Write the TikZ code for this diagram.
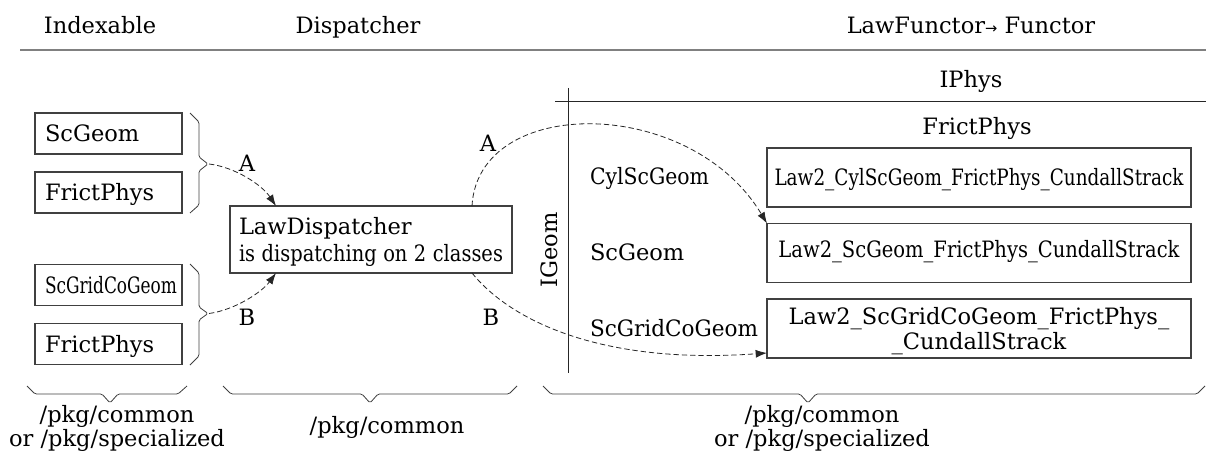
\documentclass[tikz,border=0pt]{standalone}
\usepackage{fontspec}
\setmainfont{DejaVu Serif}
\newfontfamily\arrowfont{DejaVu Sans}
\usepackage{graphicx}
\usetikzlibrary{arrows.meta}
\newcommand\sqz[2]{\resizebox{#1}{\height}{#2}}
\begin{document}
\begin{tikzpicture}[x=0.75pt,y=-0.75pt,
  every node/.style={inner sep=0pt, outer sep=0pt, font=\fontsize{16.9}{20}\selectfont},
  lbl/.style={anchor=base},
  box/.style={draw=black!75, line width=0.8pt, rectangle},
  lbox/.style={box, minimum width=110.25pt, minimum height=30.75pt, text width=95.25pt, align=left, text height=12pt, text depth=0pt},
  rbox/.style={box, minimum width=318pt, minimum height=44.25pt},
  conn/.style={draw=black!85, line width=0.6pt, dash pattern=on 4pt off 2.2pt, -{Latex[length=8.5pt,width=6pt]}},
  bracestyle/.style={draw=black!75, line width=0.6pt, rounded corners=1.2pt},
  rulestyle/.style={draw=black!85, line width=0.75pt}]
\useasboundingbox (0,0) rectangle (1206,453);

% titles
\node[lbl] (tIdx) at (100,34) {Indexable};
\node[lbl] (tDisp) at (358,34) {Dispatcher};
\node[lbl] (tLaw) at (971,34) {LawFunctor{\arrowfont\fontsize{11}{11}\selectfont →} Functor};
\draw[draw=black!50, line width=1.6pt] (20,50) -- (1206,50);

% left boxes
\node[lbox] (g1) at (108.5,133.5) {ScGeom};
\node[lbox] (p1) at (108.5,192.5) {FrictPhys};
\node[lbox] (g2) at (108.5,285) {\sqz{99pt}{ScGridCoGeom}};
\node[lbox] (p2) at (108.5,344) {FrictPhys};

% braces
\draw[bracestyle] (190,113) -- (199,122) -- (199,157) -- (208,164) -- (199,171) -- (199,205) -- (190,213);
\coordinate (bA) at (209,164);
\draw[bracestyle] (190,264) -- (199,273) -- (199,307) -- (208,313.5) -- (199,320) -- (199,356) -- (190,365);
\coordinate (bB) at (209,313.5);

% dispatcher
\node[box, minimum width=211.5pt, minimum height=50.25pt, text width=198pt, align=left,
      font=\fontsize{16.9}{20.25}\selectfont, text height=12.6pt, text depth=20.25pt] (ld) at (371,239.5)
      {LawDispatcher\\\sqz{198pt}{is dispatching on 2 classes}};

% functor table
\node[lbl] (ip) at (971,88) {IPhys};
\node[lbl] (fp) at (977,134) {FrictPhys};
\node[rotate=90] (ig) at (549,250) {IGeom};
\draw[rulestyle] (568,88) -- (568,373);
\draw[rulestyle] (555,101) -- (1206,101);

\node[anchor=base west] (rCyl) at (590,184) {\sqz{89.25pt}{CylScGeom}};
\node[anchor=base west] (rSc) at (590,260) {ScGeom};
\node[anchor=base west] (rGrid) at (590,336) {\sqz{126pt}{ScGridCoGeom}};

\node[rbox, text height=12pt, text depth=0pt] (b1) at (979,177.5) {\sqz{306.75pt}{Law2\_CylScGeom\_FrictPhys\_CundallStrack}};
\node[rbox, text height=12pt, text depth=6pt] (b2) at (979,253) {\sqz{300.75pt}{Law2\_ScGeom\_FrictPhys\_CundallStrack}};
\node[rbox, align=center, font=\fontsize{16.9}{18.75}\selectfont, text depth=0pt] (b3) at (979,328.5)
      {Law2\_ScGridCoGeom\_FrictPhys\_\\\_CundallStrack};

% connectors
\draw[conn] (bA) .. controls (235,167) and (262,185) .. ([xshift=34.5pt]ld.north west);
\draw[conn] (bB) .. controls (235,310) and (262,292) .. ([xshift=34.5pt]ld.south west);
\draw[conn] ([xshift=181.5pt]ld.north west) .. controls (478,95) and (690,95) .. (b2.north west);
\draw[conn] ([xshift=181.5pt]ld.south west) .. controls (510,320) and (600,365) .. ([yshift=3.75pt]b3.south west);

\node (la1) at (247,163) {A};
\node (lb1) at (247,317) {B};
\node (la2) at (488,143) {A};
\node (lb2) at (491,317) {B};

% bottom braces and labels
\draw[bracestyle] (27,386) -- (35,394) -- (102,394) -- (110,403) -- (118,394) -- (178,394) -- (187,386);
\draw[bracestyle] (223,386) -- (231,394) -- (362,394) -- (370,403) -- (378,394) -- (509,394) -- (517,386);
\draw[bracestyle] (543,386) -- (551,394) -- (800,394) -- (808,403) -- (816,394) -- (1197,394) -- (1205,386);

\node[lbl] (bl1a) at (117,422) {/pkg/common};
\node[lbl] (bl1b) at (117,446) {or /pkg/specialized};
\node[lbl] (bl2) at (387,433) {/pkg/common};
\node[lbl] (bl3a) at (822,422) {/pkg/common};
\node[lbl] (bl3b) at (822,446) {or /pkg/specialized};
\end{tikzpicture}
\end{document}
